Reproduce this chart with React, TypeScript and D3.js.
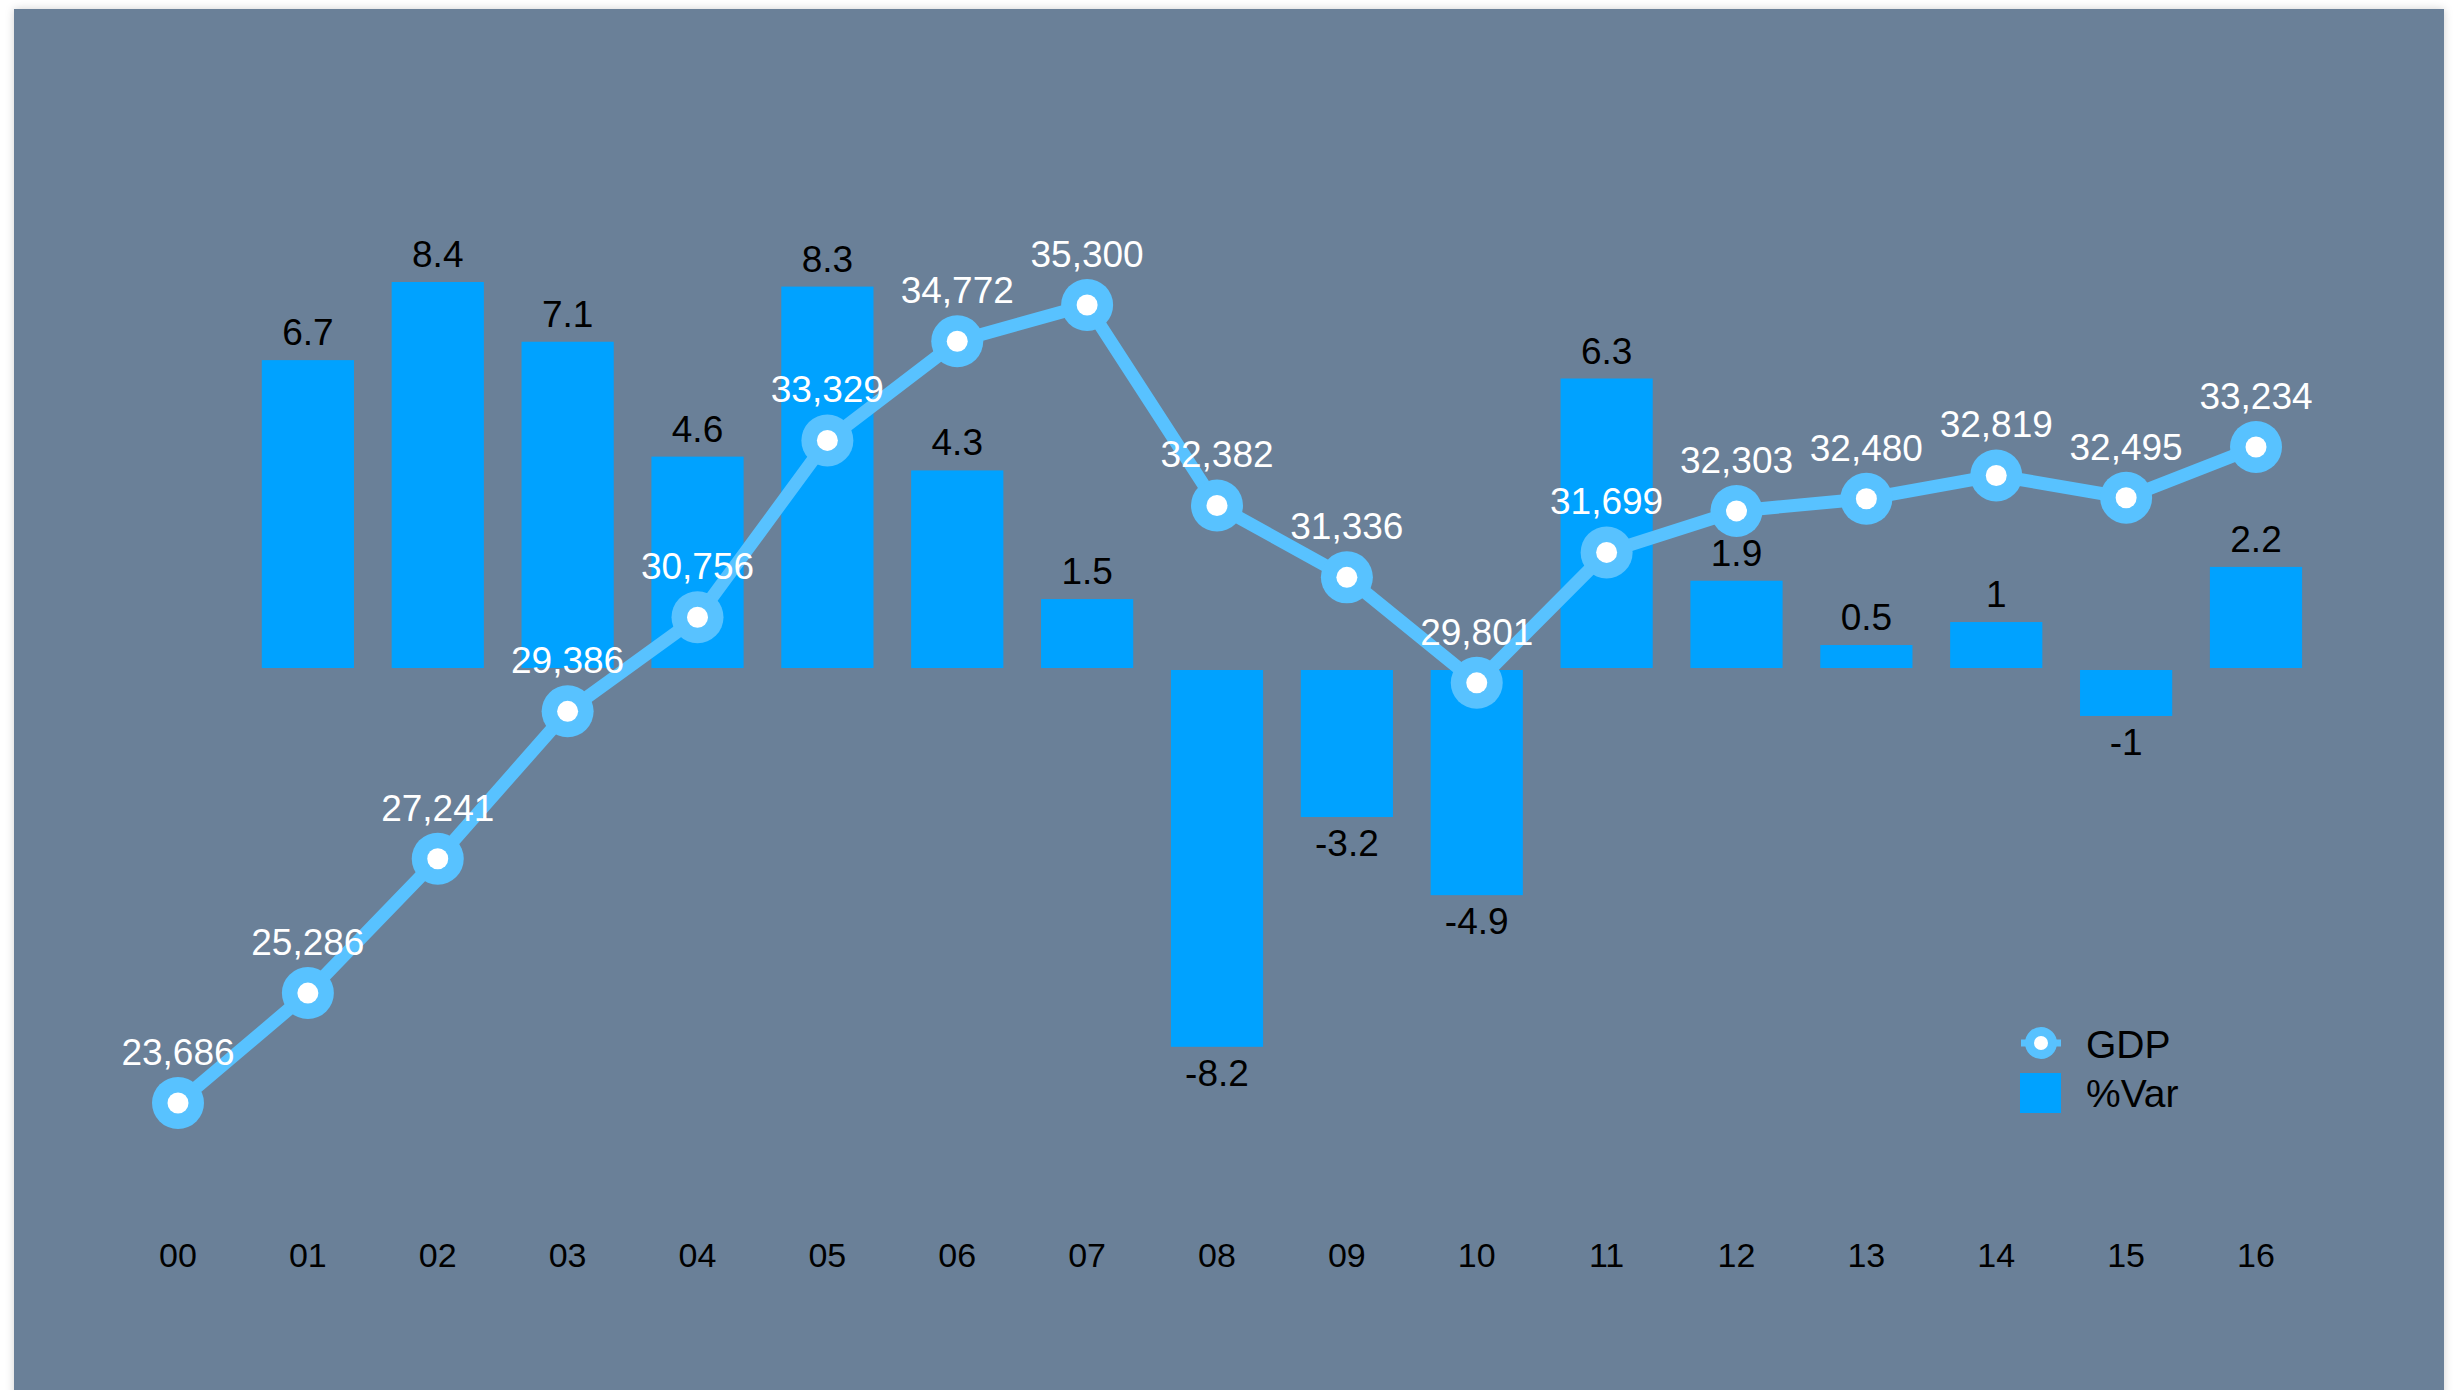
import React from "react";
import * as d3 from "d3";

const categories = ["00","01","02","03","04","05","06","07","08","09","10","11","12","13","14","15","16"];
const gdpValues = [23686,25286,27241,29386,30756,33329,34772,35300,32382,31336,29801,31699,32303,32480,32819,32495,33234];
const varValues: (number | null)[] = [null,6.7,8.4,7.1,4.6,8.3,4.3,1.5,-8.2,-3.2,-4.9,6.3,1.9,0.5,1,-1,2.2];
const legendLabels = ["GDP", "%Var"];

const W = 2454, H = 1390;
const PANEL = "#6A8098";
const BAR = "#00A2FF";
const LINE = "#58C2FF";
const FONT = "'Liberation Sans', Arial, Helvetica, sans-serif";

export default function App() {
  const x = d3.scalePoint<string>().domain(categories).range([178, 2256]);
  const barW = x.step() * 0.71;
  const yBar = d3.scaleLinear().domain([0, 8.4]).range([668, 282]);
  const yGdp = d3.scaleLinear().domain([23686, 35300]).range([1103, 305]);
  const fmt = d3.format(",");
  const line = d3.line<number>().x((_, i) => x(categories[i])!).y(d => yGdp(d));

  return (
    <svg width={W} height={H} style={{ position: "absolute", left: 0, top: 0, display: "block" }}>
      <defs>
        <filter id="sh" x="-5%" y="-5%" width="110%" height="110%">
          <feDropShadow dx="0" dy="0" stdDeviation="4" floodColor="#000" floodOpacity="0.18" />
        </filter>
      </defs>
      <rect x={0} y={0} width={W} height={H} fill="#ffffff" />
      <rect x={14} y={9} width={2430} height={H} fill={PANEL} filter="url(#sh)" />

      {/* bars */}
      {varValues.map((v, i) => {
        if (v === null) return null;
        const cx = x(categories[i])!;
        const top = v >= 0 ? yBar(v) : yBar(0) + 2;
        const h = v >= 0 ? yBar(0) - yBar(v) : yBar(v) - yBar(0);
        return <rect key={"b" + i} x={cx - barW / 2} y={top} width={barW} height={h} fill={BAR} />;
      })}
      {varValues.map((v, i) => {
        if (v === null) return null;
        const cx = x(categories[i])!;
        const ty = v >= 0 ? yBar(v) - 15 : yBar(v) + 41;
        return (
          <text key={"bl" + i} x={cx} y={ty} textAnchor="middle" fontFamily={FONT} fontSize={37} fill="#000">
            {String(v)}
          </text>
        );
      })}

      {/* line */}
      <path d={line(gdpValues)!} fill="none" stroke={LINE} strokeWidth={13} strokeLinejoin="round" />
      {gdpValues.map((v, i) => (
        <g key={"p" + i}>
          <circle cx={x(categories[i])!} cy={yGdp(v)} r={26} fill={LINE} />
          <circle cx={x(categories[i])!} cy={yGdp(v)} r={10.5} fill="#fff" />
        </g>
      ))}
      {gdpValues.map((v, i) => (
        <text key={"gl" + i} x={x(categories[i])!} y={yGdp(v) - 38} textAnchor="middle" fontFamily={FONT} fontSize={37} fill="#fff">
          {fmt(v)}
        </text>
      ))}

      {/* x labels */}
      {categories.map(c => (
        <text key={"x" + c} x={x(c)!} y={1267} textAnchor="middle" fontFamily={FONT} fontSize={34} fill="#000">
          {c}
        </text>
      ))}

      {/* legend */}
      <g>
        <line x1={2021} x2={2061} y1={1043} y2={1043} stroke={LINE} strokeWidth={7} />
        <circle cx={2041} cy={1043} r={16} fill={LINE} />
        <circle cx={2041} cy={1043} r={7} fill="#fff" />
        <text x={2086} y={1058} fontFamily={FONT} fontSize={39} fill="#000">{legendLabels[0]}</text>
        <rect x={2020} y={1073} width={41} height={40} fill={BAR} />
        <text x={2086} y={1107} fontFamily={FONT} fontSize={39} fill="#000">{legendLabels[1]}</text>
      </g>
    </svg>
  );
}
